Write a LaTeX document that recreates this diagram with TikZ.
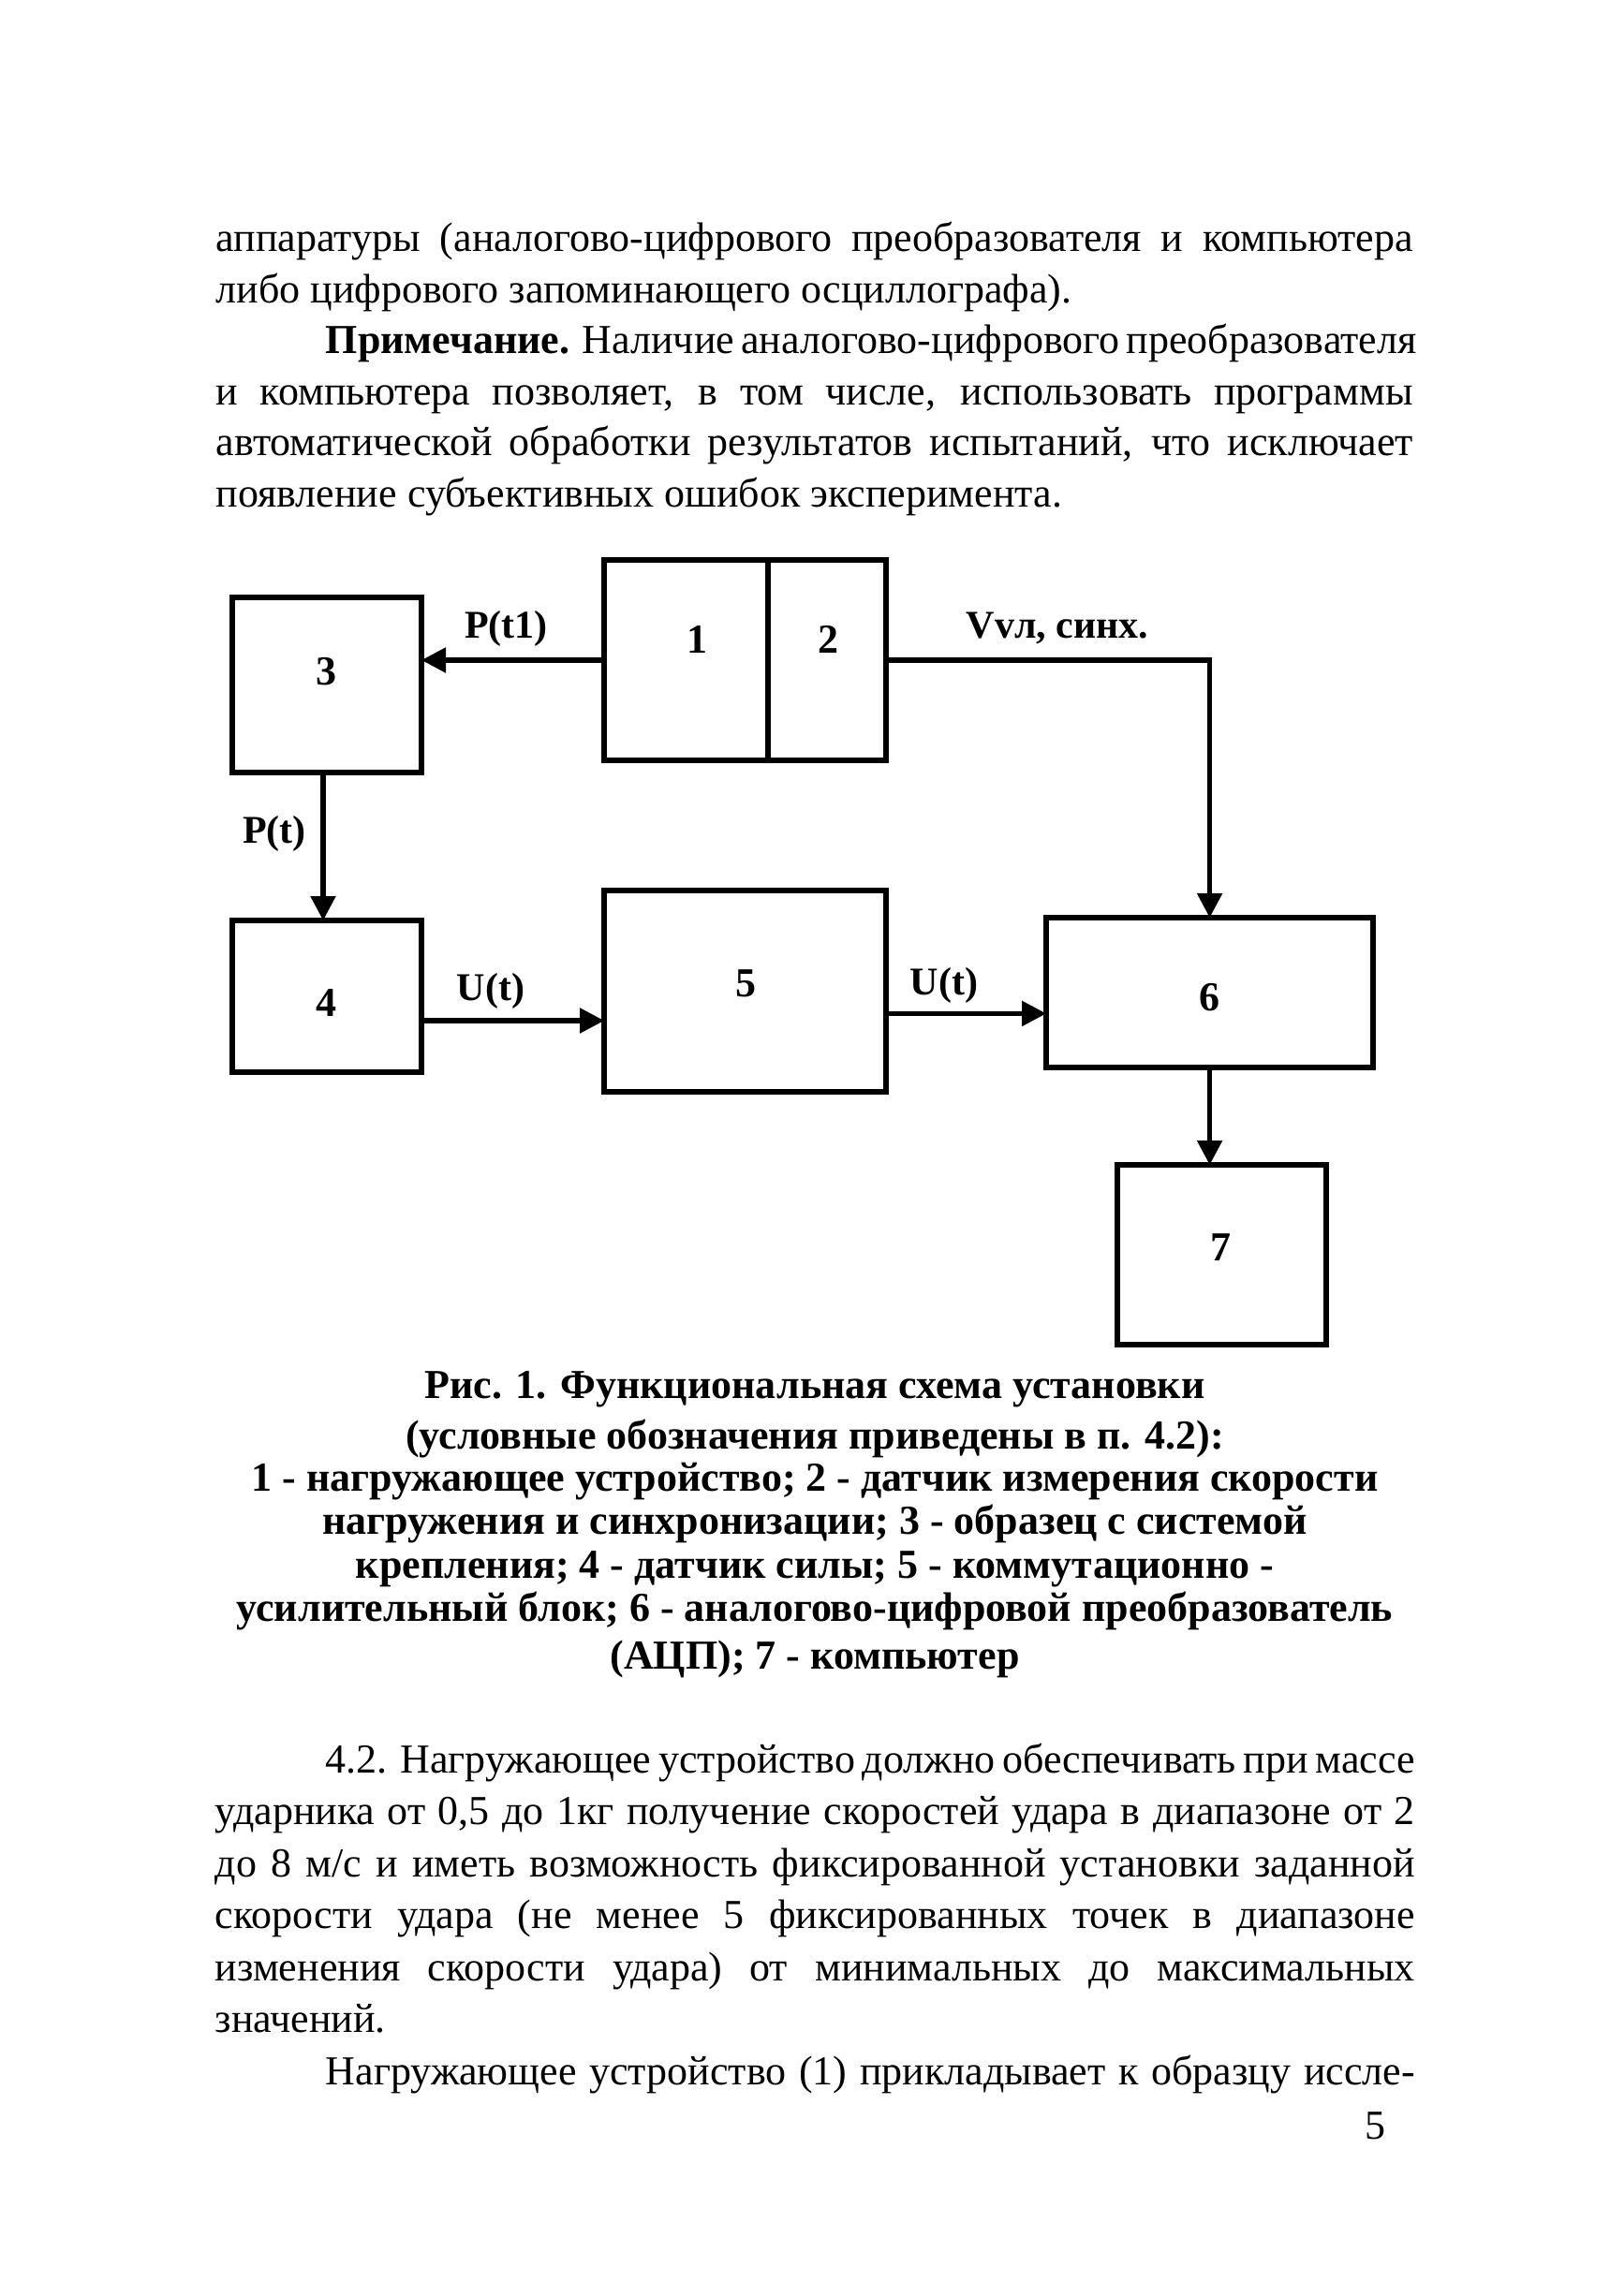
\documentclass[tikz,border=0pt]{standalone}
\usepackage{fontspec}
\setmainfont{Liberation Serif}
\usetikzlibrary{arrows.meta}
\newcommand\jl[2]{\makebox[#1][s]{#2}}
\begin{document}
\begin{tikzpicture}[yscale=-1
,blk/.style={draw=black,line width=1.6pt,inner sep=0,outer sep=0}
,conn/.style={color=black,line width=1.3pt,-{Triangle[length=6.5pt,width=6.5pt]}}
,num/.style={font=\fontsize{11}{13}\selectfont\bfseries,inner sep=0}
,sig/.style={font=\fontsize{10.5}{12}\selectfont\bfseries,inner sep=0}
,txt/.style={font=\fontsize{11}{13}\selectfont,inner sep=0,anchor=base west}
,captxt/.style={font=\fontsize{11}{13}\selectfont\bfseries,inner sep=0,anchor=base}
]
\useasboundingbox[fill=white] (0pt,0pt) rectangle (429.5pt,613pt);
% text above the figure
\node[txt] (t1) at (57.5pt,67pt) {\jl{319.5pt}{аппаратуры (аналогово-цифрового преобразователя и компьютера}};
\node[txt] (t2) at (57.5pt,80.75pt) {либо цифрового запоминающего осциллографа).};
\node[txt] (t3) at (86.75pt,94.25pt) {\jl{290.25pt}{\textbf{Примечание.} Наличие аналогово-цифрового преобразователя}};
\node[txt] (t4) at (57.5pt,108pt) {\jl{319.5pt}{и компьютера позволяет, в том числе, использовать программы}};
\node[txt] (t5) at (57.5pt,121.5pt) {\jl{319.5pt}{автоматической обработки результатов испытаний, что исключает}};
\node[txt] (t6) at (57.5pt,135.25pt) {появление субъективных ошибок эксперимента.};
% blocks
\node[blk,minimum width=43.75pt,minimum height=53.5pt] (b1) at (183.1pt,176.25pt) {};
\node[blk,minimum width=31.5pt,minimum height=53.5pt] (b2) at (220.75pt,176.25pt) {};
\node[blk,minimum width=50.5pt,minimum height=46.75pt] (b3) at (87.25pt,182.9pt) {};
\node[blk,minimum width=50.5pt,minimum height=40.5pt] (b4) at (87.25pt,266pt) {};
\node[blk,minimum width=75.25pt,minimum height=53.75pt] (b5) at (198.9pt,264.6pt) {};
\node[blk,minimum width=87.25pt,minimum height=40pt] (b6) at (322.9pt,265pt) {};
\node[blk,minimum width=55.75pt,minimum height=48pt] (b7) at (326.1pt,335pt) {};
\node[num] (n1) at (186pt,170.75pt) {1};
\node[num] (n2) at (221pt,170.75pt) {2};
\node[num] (n3) at (87pt,179.25pt) {3};
\node[num] (n4) at (87pt,267.75pt) {4};
\node[num] (n5) at (199pt,262.5pt) {5};
\node[num] (n6) at (322.75pt,266.25pt) {6};
\node[num] (n7) at (325.75pt,333pt) {7};
% connectors
\draw[conn] (b1.west) -- (b1.west -| b3.east);
\draw[conn] (b2.east) -| (b6.north);
\draw[conn] (b3.south -| 86.25pt,0) -- (b4.north -| 86.25pt,0);
\draw[conn] ([yshift=6.5pt]b4.east) -- ([yshift=6.5pt]b4.east -| b5.west);
\draw[conn] ([yshift=6pt]b5.east) -- ([yshift=6pt]b5.east -| b6.west);
\draw[conn] (b6.south) -- (b6.south |- b7.north);
\node[sig] (s1) at (135.1pt,167.75pt) {P(t1)};
\node[sig] (s2) at (282.25pt,167.75pt) {Vvл, синх.};
\node[sig] (s3) at (73.25pt,222.5pt) {P(t)};
\node[sig] (s4) at (131pt,264.5pt) {U(t)};
\node[sig] (s5) at (252pt,263pt) {U(t)};
% caption
\node[captxt] (c1) at (217.5pt,373.25pt) {Рис. 1. Функциональная схема установки};
\node[captxt] (c2) at (217.5pt,386.75pt) {(условные обозначения приведены в п. 4.2):};
\node[captxt] (c3) at (217.5pt,398pt) {1 - нагружающее устройство; 2 - датчик измерения скорости};
\node[captxt] (c4) at (217.5pt,409.5pt) {нагружения и синхронизации; 3 - образец с системой};
\node[captxt] (c5) at (217.5pt,421.25pt) {крепления; 4 - датчик силы; 5 - коммутационно -};
\node[captxt] (c6) at (217.5pt,432.75pt) {усилительный блок; 6 - аналогово-цифровой преобразователь};
\node[captxt] (c7) at (217.5pt,445.5pt) {(АЦП); 7 - компьютер};
% text below the figure
\node[txt] (u1) at (86.75pt,473.25pt) {\jl{290.75pt}{4.2. Нагружающее устройство должно обеспечивать при массе}};
\node[txt] (u2) at (57.25pt,487pt) {\jl{320.25pt}{ударника от 0,5 до 1кг получение скоростей удара в диапазоне от 2}};
\node[txt] (u3) at (57.25pt,501pt) {\jl{320.25pt}{до 8 м/с и иметь возможность фиксированной установки заданной}};
\node[txt] (u4) at (57.25pt,514.75pt) {\jl{320.25pt}{скорости удара (не менее 5 фиксированных точек в диапазоне}};
\node[txt] (u5) at (57.25pt,528.75pt) {\jl{320.25pt}{изменения скорости удара) от минимальных до максимальных}};
\node[txt] (u6) at (57.25pt,542.5pt) {значений.};
\node[txt] (u7) at (86.75pt,556.5pt) {\jl{290.75pt}{Нагружающее устройство (1) прикладывает к образцу иссле-}};
\node[txt,anchor=base] (pg) at (367pt,571pt) {5};
\end{tikzpicture}
\end{document}
